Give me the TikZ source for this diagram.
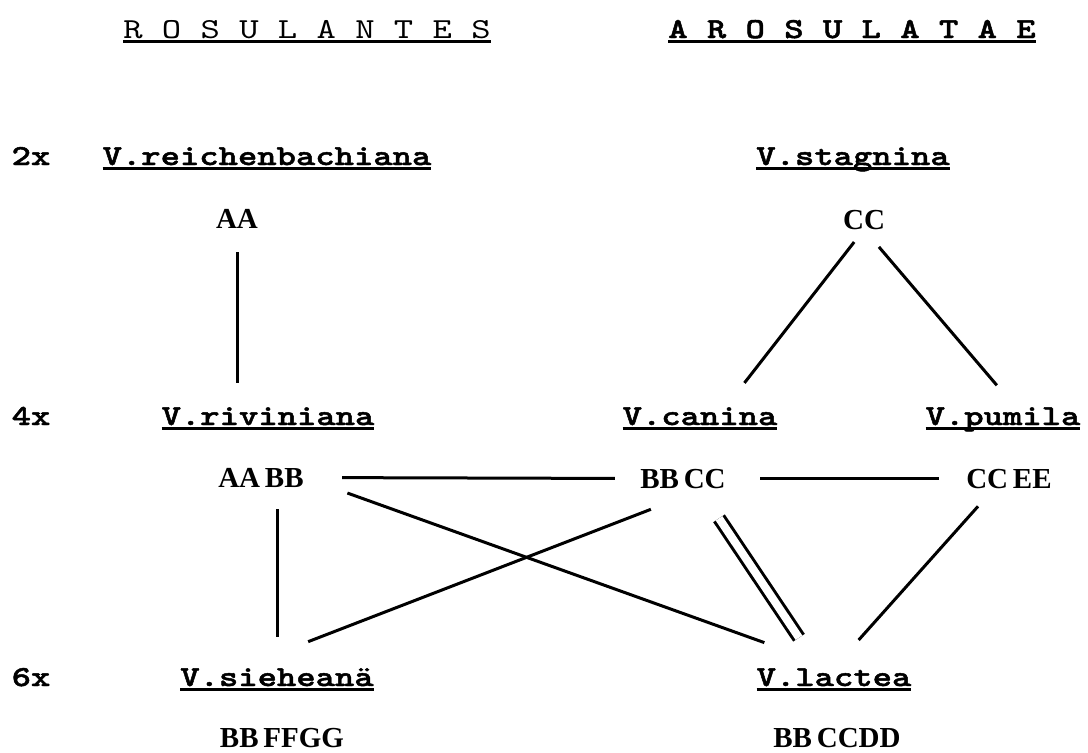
\documentclass[tikz,border=0pt]{standalone}
\usepackage{fontspec}
\newfontfamily\spfont{lmmonolt10-bold.otf}[FakeStretch=1.27, FakeBold=1.6]
\newfontfamily\hdfont{lmmono10-regular.otf}[FakeStretch=1.27]
\newfontfamily\gnfont{Liberation Serif}
\newcommand\ulined[1]{\sbox0{#1}\rlap{\rule[-2.3pt]{\wd0}{1.3pt}}\usebox0}

\begin{document}
\begin{tikzpicture}[
  x=0.5pt, y=-0.5pt,
  species/.style={font=\spfont\fontsize{14.5}{17}\selectfont, inner sep=0pt, anchor=base, text height=9pt, text depth=3pt},
  genome/.style={font=\gnfont\bfseries\fontsize{14.5}{16}\selectfont, inner sep=0pt, anchor=base, text height=9.5pt, text depth=0pt},
  ploidy/.style={font=\spfont\fontsize{14.5}{17}\selectfont, inner sep=0pt, anchor=base},
  header/.style={inner sep=0pt, anchor=base},
  link/.style={line width=1.5pt},
]
\useasboundingbox (0,0) rectangle (1088,752);

% -- section headings --
\node[header, font=\hdfont\fontsize{14.5}{17}\selectfont] (rosul) at (307,38) {\ulined{R O S U L A N T E S}};
\node[header, font=\spfont\fontsize{14.5}{17}\selectfont] (arosul) at (852,38) {\ulined{A R O S U L A T A E}};

% -- ploidy levels --
\node[ploidy] (p2) at (31,165) {2x};
\node[ploidy] (p4) at (31,425) {4x};
\node[ploidy] (p6) at (31,686) {6x};

% -- species --
\node[species] (reich) at (267,165) {\ulined{V.reichenbachiana}};
\node[species] (stagn) at (853,165) {\ulined{V.stagnina}};
\node[species] (rivin) at (268,425) {\ulined{V.riviniana}};
\node[species] (canina) at (700,425) {\ulined{V.canina}};
\node[species] (pumila) at (1003,425) {\ulined{V.pumila}};
\node[species] (siehe) at (277,686) {\ulined{V.sieheanä}};
\node[species] (lactea) at (834,686) {\ulined{V.lactea}};

% -- genomes --
\node[genome] (aa) at (237,228) {AA};
\node[genome] (cc) at (864,229) {CC};
\node[genome] (aabb) at (261,487) {AA\,BB};
\node[genome] (bbcc) at (683,488) {BB\,CC};
\node[genome] (ccee) at (1009,488) {CC\,EE};
\node[genome] (bbffgg) at (282,747) {BB\,FFGG};
\node[genome] (bbccdd) at (837,747) {BB\,CCDD};

% -- links --
\draw[link, shorten <=12pt, shorten >=12pt] (aa.south) -- (aa.south |- rivin.north);
\draw[link, shorten <=8pt, shorten >=15pt] (cc.south) -- ([xshift=13pt]canina.north);
\draw[link, shorten <=11.5pt, shorten >=14pt] (cc.south) -- ([xshift=6pt]pumila.north);
\draw[link, shorten <=19pt, shorten >=12.5pt] (aabb.east) -- (bbcc.west);
\draw[link, shorten <=17pt, shorten >=13.5pt] (bbcc.east) -- (ccee.west);
\draw[link, shorten <=11pt, shorten >=15.5pt] (aabb.south -| siehe.north) -- (siehe.north);
\draw[link, shorten <=23pt, shorten >=37pt] (aabb.east) -- (lactea.north);
\draw[link, shorten <=29pt, shorten >=36pt] ([xshift=11pt]bbcc.south) -- ([xshift=-18pt]siehe.north);
\draw[link, double, double distance=4pt, shorten <=18pt, shorten >=18pt] ([xshift=8pt]bbcc.south) -- ([xshift=-7.5pt]lactea.north);
\draw[link, shorten <=12pt, shorten >=18.5pt] ([xshift=-7.5pt]ccee.south) -- (lactea.north);

\end{tikzpicture}
\end{document}
